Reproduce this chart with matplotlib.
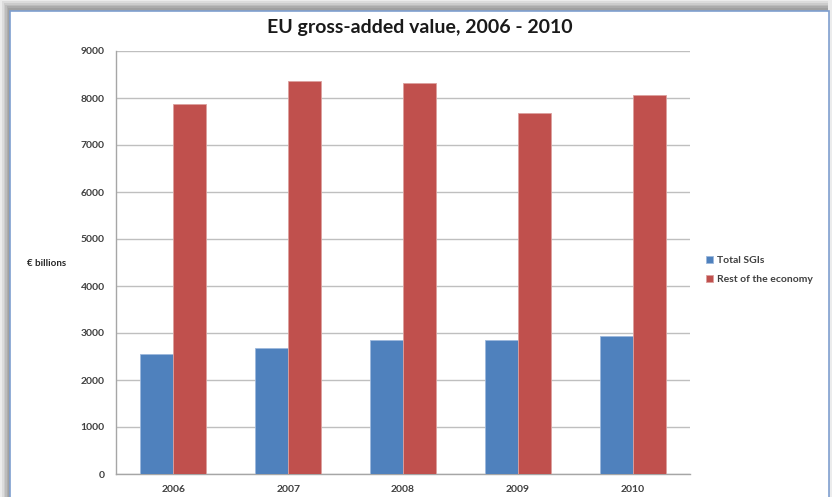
import matplotlib.pyplot as plt
from matplotlib.patches import Rectangle
import numpy as np

years = ["2006", "2007", "2008", "2009", "2010"]
total_sgis = [2550, 2690, 2845, 2860, 2935]
rest_economy = [7865, 8365, 8325, 7690, 8060]
y_ticks = [0, 1000, 2000, 3000, 4000, 5000, 6000, 7000, 8000, 9000]

blue = "#4F81BD"
red = "#C0504D"
text_col = "#404040"

plt.rcParams['font.family'] = ['Lato', 'DejaVu Sans']

fig = plt.figure(figsize=(8.32, 4.97), dpi=100)
fig.patch.set_facecolor("#ececec")

# soft shadow around the chart frame
shades = ["#dcdcdc", "#cccccc", "#bcbcbc", "#acacac", "#a0a0a0"]
for k, c in enumerate(shades):
    fig.patches.append(Rectangle(((2 + k * 1.6) / 832, -0.02),
                                 (826 - k * 1.6) / 832, (497 - 1 - k * 1.8) / 497 + 0.02,
                                 transform=fig.transFigure,
                                 facecolor=c, edgecolor="none", zorder=0))
fig.patches.append(Rectangle((10 / 832, -0.02), 819 / 832, (497 - 11) / 497 + 0.02,
                             transform=fig.transFigure, facecolor="white",
                             edgecolor="#7f9fcf", linewidth=1.2, zorder=1))

ax = fig.add_axes([116 / 832, 1 - 474 / 497, 574 / 832, 423 / 497])
ax.set_facecolor("none")
ax.set_zorder(2)

x = np.arange(len(years))
w = 0.287
ax.bar(x - w / 2, total_sgis, w, color=blue, edgecolor="#9db8dc", linewidth=0.6,
       label="Total SGIs", zorder=3)
ax.bar(x + w / 2, rest_economy, w, color=red, edgecolor="#dca09e", linewidth=0.6,
       label="Rest of the economy", zorder=3)

ax.set_xlim(-0.5, len(years) - 0.5)
ax.set_ylim(0, 9000)
ax.set_yticks(y_ticks)
ax.set_yticklabels([str(v) for v in y_ticks])
ax.set_xticks(x)
ax.set_xticklabels(years)
ax.grid(axis="y", color="#bfbfbf", linewidth=1.0, zorder=0)
ax.tick_params(axis="both", length=0, labelsize=7.5, labelcolor=text_col, pad=8)
for lab in ax.get_xticklabels() + ax.get_yticklabels():
    lab.set_fontweight("bold")
for s in ["top", "right"]:
    ax.spines[s].set_visible(False)
for s in ["left", "bottom"]:
    ax.spines[s].set_color("#a6a6a6")
    ax.spines[s].set_linewidth(1.0)

fig.text(47 / 832, 1 - 264 / 497, "€ billions", fontsize=7, fontweight="bold",
         color="#262626", ha="center", va="center")
fig.text(420 / 832, 1 - 28 / 497, "EU gross-added value, 2006 - 2010", fontsize=14,
         fontweight="bold", color="#1a1a1a", ha="center", va="center")

leg = fig.legend(loc="upper left", bbox_to_anchor=(702 / 832, 1 - 252 / 497),
                 frameon=False, fontsize=7.5, handlelength=0.7, handleheight=0.7,
                 handletextpad=0.3, labelspacing=0.9, borderaxespad=0)
for t in leg.get_texts():
    t.set_color(text_col)
    t.set_fontweight("bold")

fig.savefig("out.png", dpi=100, facecolor=fig.get_facecolor())
